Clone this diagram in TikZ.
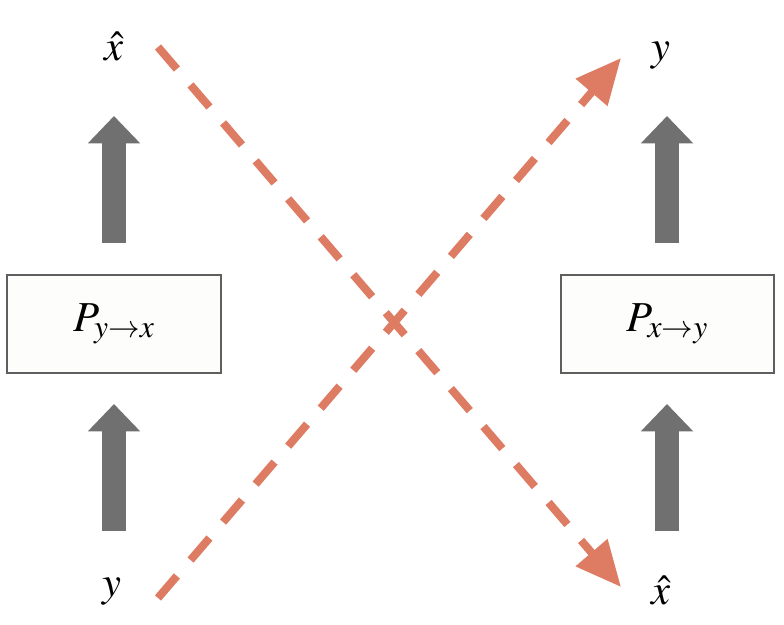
\documentclass[tikz,border=0pt]{standalone}
\usepackage{mathptmx}
\usetikzlibrary{arrows.meta}
\definecolor{salmon}{RGB}{221,124,99}
\definecolor{agray}{RGB}{112,112,112}
\definecolor{bordergray}{RGB}{95,95,95}
\definecolor{boxfill}{RGB}{253,253,251}
\begin{document}
\begin{tikzpicture}[x=0.75pt,y=-0.75pt,
  lbl/.style={inner sep=0pt, font=\fontsize{32pt}{36pt}\selectfont},
  pbox/.style={draw=bordergray, line width=1.6pt, fill=boxfill, minimum width=160pt, minimum height=73pt, inner sep=0pt, font=\fontsize{32pt}{36pt}\selectfont},
  garrow/.style={draw=agray, line width=18pt, -{Triangle[width=38pt,length=20.5pt]}},
  darrow/.style={draw=salmon, line width=6pt, dash pattern=on 21.75pt off 15.75pt, -{Triangle[width=30pt,length=34pt]}}
]
\useasboundingbox (0,0) rectangle (784,624);
\fill[white] (0,0) rectangle (784,624);

\node[pbox] (left) at (114,324) {$P_{y\rightarrow x}$};
\node[pbox] (right) at (667.5,324) {$P_{x\rightarrow y}$};

\node[lbl] (xhTL) at (114,46) {$\hat{x}$};
\node[lbl] (yBL) at (112,592) {$y$};
\node[lbl] (yTR) at (661,56) {$y$};
\node[lbl] (xhBR) at (661,590) {$\hat{x}$};

% gray block arrows
\coordinate (la1) at (114,243); \coordinate (la2) at (114,116);
\coordinate (lb1) at (114,531); \coordinate (lb2) at (114,404);
\coordinate (ra1) at (667,243); \coordinate (ra2) at (667,116);
\coordinate (rb1) at (667,531); \coordinate (rb2) at (667,404);
\draw[garrow] (la1) -- (la2);
\draw[garrow] (lb1) -- (lb2);
\draw[garrow] (ra1) -- (ra2);
\draw[garrow] (rb1) -- (rb2);

% dashed crossing arrows
\coordinate (d1s) at (158,47); \coordinate (d1e) at (621,587);
\coordinate (d2s) at (158,598); \coordinate (d2e) at (621,58);
\draw[darrow] (d1s) -- (d1e);
\draw[darrow] (d2s) -- (d2e);
\end{tikzpicture}
\end{document}
